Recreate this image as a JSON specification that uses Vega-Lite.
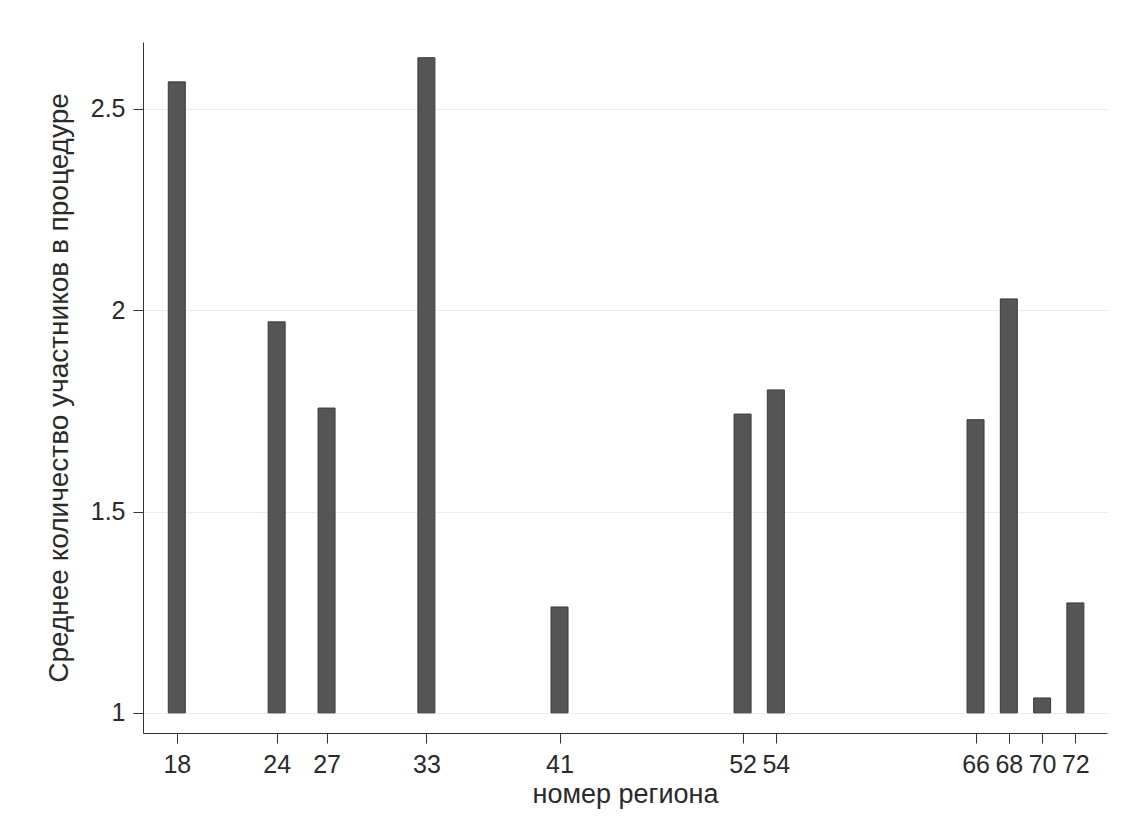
{
  "$schema": "https://vega.github.io/schema/vega-lite/v6.json",
  "width": 964,
  "height": 691,
  "autosize": {"type": "none"},
  "padding": {"left": 143, "top": 42, "right": 34, "bottom": 107},
  "background": "white",
  "config": {
    "view": {"stroke": null},
    "font": "Liberation Sans"
  },
  "data": {
    "values": [
      {"region": 18, "mean": 2.567},
      {"region": 24, "mean": 1.971},
      {"region": 27, "mean": 1.757},
      {"region": 33, "mean": 2.627},
      {"region": 41, "mean": 1.263},
      {"region": 52, "mean": 1.742},
      {"region": 54, "mean": 1.802},
      {"region": 66, "mean": 1.728},
      {"region": 68, "mean": 2.028},
      {"region": 70, "mean": 1.037},
      {"region": 72, "mean": 1.273}
    ]
  },
  "mark": {"type": "bar", "size": 17, "fill": "#555555", "stroke": "#3a3a3a", "strokeWidth": 1},
  "encoding": {
    "x": {
      "field": "region",
      "type": "quantitative",
      "scale": {"domain": [16.27, 73.6], "nice": false, "zero": false},
      "axis": {
        "title": "номер региона",
        "values": [18, 24, 27, 33, 41, 52, 54, 66, 68, 70, 72],
        "grid": false,
        "labelOverlap": false,
        "labelFontSize": 25,
        "labelColor": "#2a2a2a",
        "labelPadding": 9,
        "tickSize": 10,
        "tickColor": "#333333",
        "domainColor": "#333333",
        "titleFontSize": 27,
        "titleFontWeight": "normal",
        "titleColor": "#2a2a2a",
        "titlePadding": 4
      }
    },
    "y": {
      "field": "mean",
      "type": "quantitative",
      "scale": {"domain": [0.95, 2.666], "nice": false, "zero": false},
      "axis": {
        "title": "Среднее количество участников в процедуре",
        "values": [1, 1.5, 2, 2.5],
        "format": "~g",
        "grid": true,
        "gridColor": "#e6eff0",
        "gridWidth": 1,
        "labelFontSize": 25,
        "labelColor": "#2a2a2a",
        "labelPadding": 8,
        "tickSize": 10,
        "tickColor": "#333333",
        "domainColor": "#333333",
        "titleFontSize": 28,
        "titleFontWeight": "normal",
        "titleColor": "#2a2a2a",
        "titlePadding": 17
      }
    },
    "y2": {"datum": 1}
  }
}
